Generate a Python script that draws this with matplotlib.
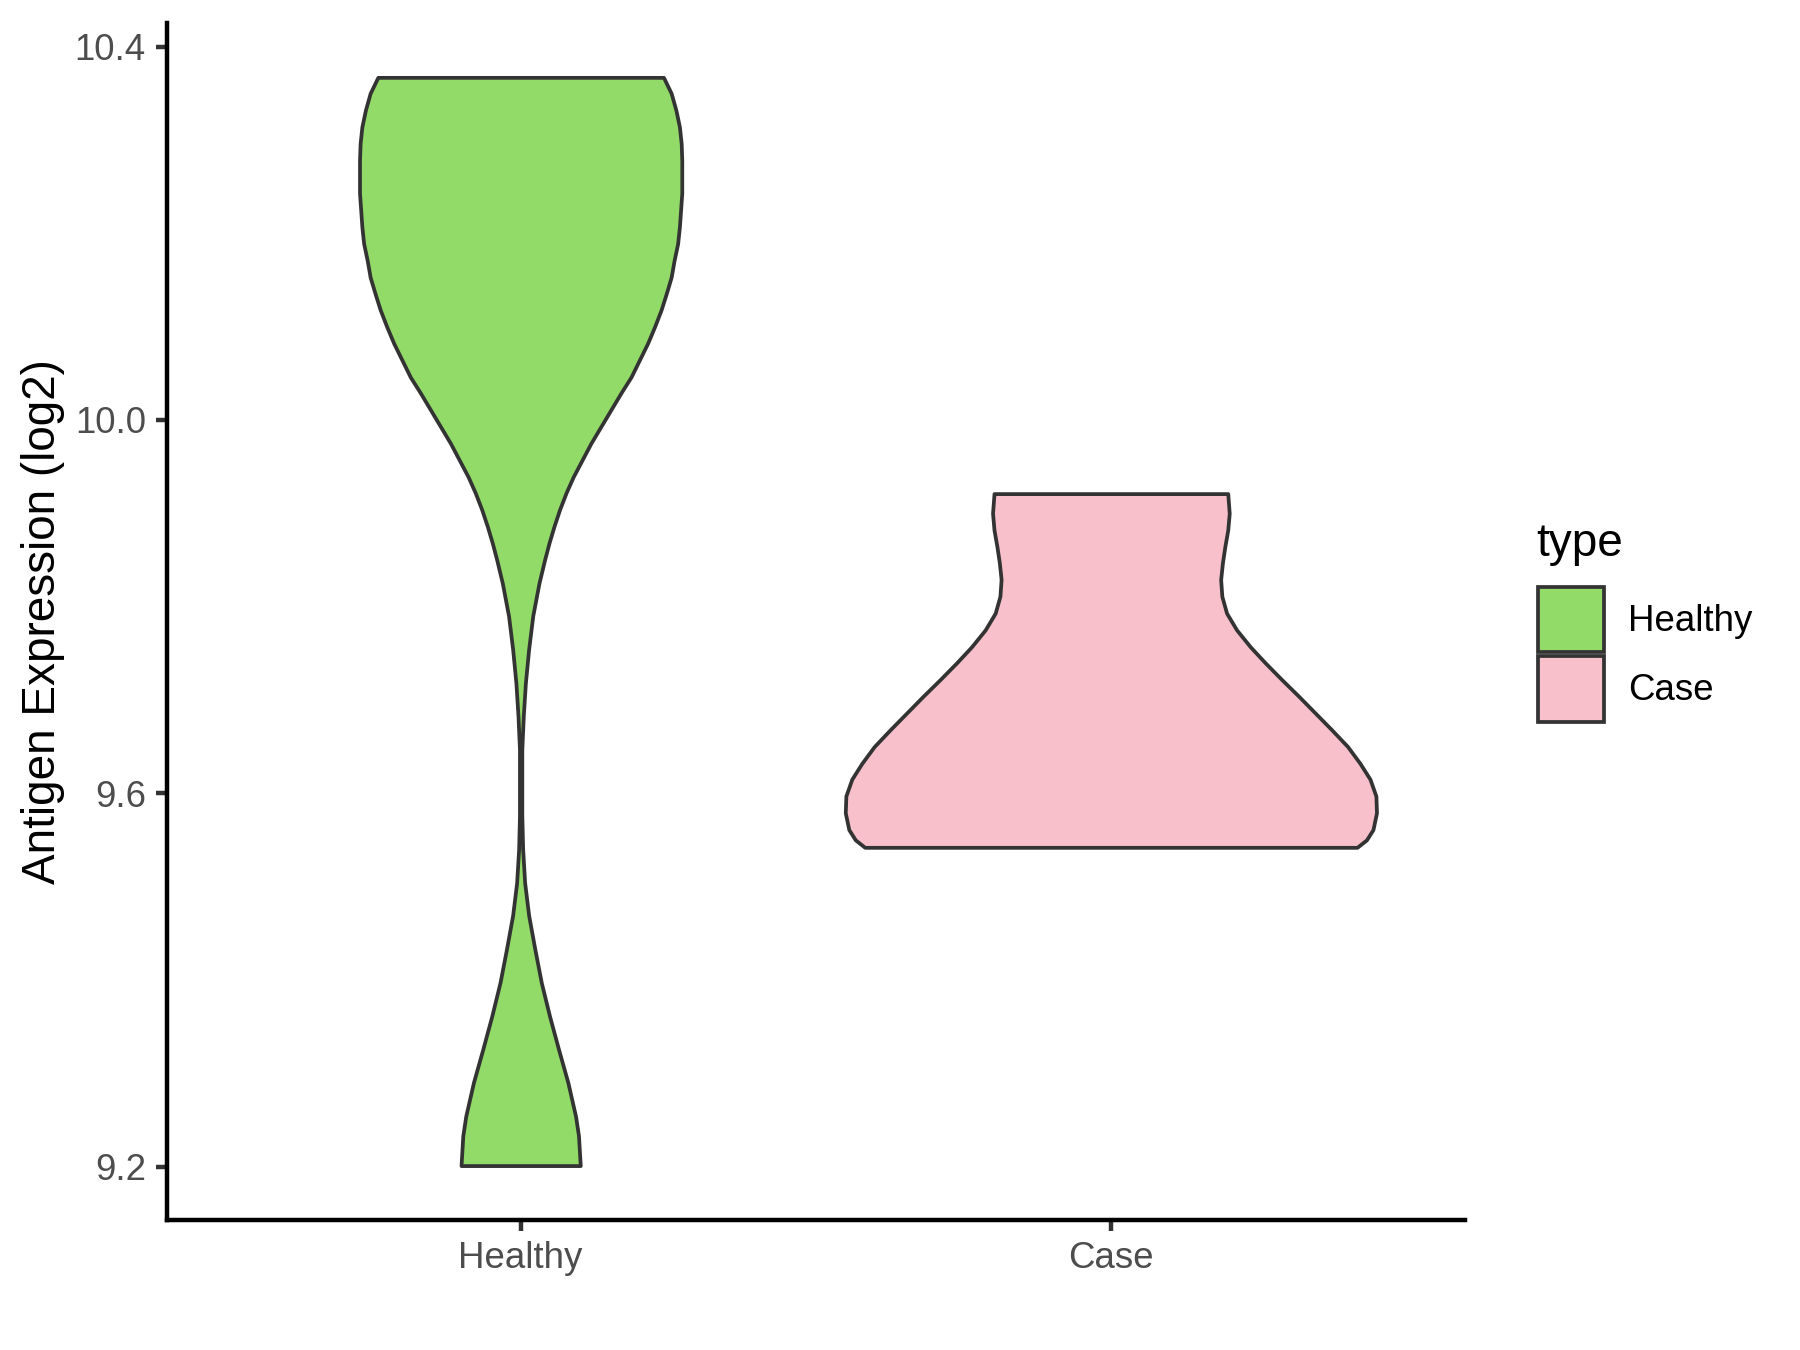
import numpy as np
import matplotlib.pyplot as plt
from matplotlib.patches import Patch

plt.rcParams['font.family'] = ['Liberation Sans', 'DejaVu Sans']

groups = ['Healthy', 'Case']
fills = ['#93DB69', '#F7C0CB']
y_ticks = [9.2, 9.6, 10.0, 10.4]

# violin outlines: expression level, half width (x units)
healthy_y = [10.367, 10.350, 10.332, 10.314, 10.296, 10.278, 10.260, 10.243,
             10.225, 10.207, 10.189, 10.171, 10.153, 10.136, 10.118, 10.100,
             10.082, 10.064, 10.046, 10.029, 10.011, 9.993, 9.975, 9.957,
             9.939, 9.922, 9.904, 9.886, 9.868, 9.850, 9.825, 9.790, 9.754,
             9.718, 9.683, 9.647, 9.612, 9.576, 9.540, 9.504, 9.469, 9.433,
             9.397, 9.361, 9.326, 9.290, 9.254, 9.233, 9.201]
healthy_w = [0.242, 0.255, 0.263, 0.269, 0.272, 0.273, 0.273, 0.273,
             0.271, 0.269, 0.266, 0.260, 0.255, 0.247, 0.238, 0.227,
             0.215, 0.201, 0.187, 0.170, 0.153, 0.136, 0.119, 0.104,
             0.089, 0.077, 0.066, 0.0565, 0.048, 0.0405, 0.031, 0.0205, 0.0135,
             0.008, 0.0045, 0.002, 0.002, 0.002, 0.0034, 0.0068, 0.0136, 0.024,
             0.035, 0.049, 0.064, 0.080, 0.093, 0.098, 0.101]
case_y = [9.921, 9.900, 9.882, 9.864, 9.847, 9.829, 9.811, 9.793, 9.775,
          9.757, 9.740, 9.722, 9.704, 9.686, 9.668, 9.650, 9.632, 9.615,
          9.597, 9.579, 9.561, 9.550, 9.542]
case_w = [0.198, 0.2005, 0.198, 0.193, 0.189, 0.186, 0.188, 0.196, 0.213,
          0.236, 0.261, 0.289, 0.318, 0.346, 0.374, 0.401, 0.422, 0.439,
          0.449, 0.450, 0.444, 0.433, 0.417]

fig = plt.figure(figsize=(6, 4.5), dpi=300)
ax = fig.add_axes([0.0925, 0.0963, 0.7214, 0.8867])

outline = '#333333'
for i, (ys, ws) in enumerate([(healthy_y, healthy_w), (case_y, case_w)]):
    ys = np.array(ys)
    ws = np.array(ws)
    ax.fill_betweenx(ys, i + 1 - ws, i + 1 + ws, facecolor=fills[i],
                     edgecolor=outline, linewidth=0.9, joinstyle='round')

lo = min(healthy_y + case_y)
hi = max(healthy_y + case_y)
pad = 0.05 * (hi - lo)
ax.set_ylim(lo - pad, hi + pad)
ax.set_xlim(0.4, 2.6)

ax.set_xticks([1, 2])
ax.set_xticklabels(groups)
ax.set_yticks(y_ticks)
ax.set_yticklabels([f'{t:.1f}' for t in y_ticks])

for s in ['top', 'right']:
    ax.spines[s].set_visible(False)
for s in ['left', 'bottom']:
    ax.spines[s].set_linewidth(1.07)
    ax.spines[s].set_color('black')
ax.tick_params(length=2.75, width=1.07, color=outline, labelsize=8.8,
               labelcolor='#4D4D4D', pad=2.2)
ax.set_ylabel('Antigen Expression (log2)', fontsize=11, labelpad=2.4)

# legend: title as its own text so the gap to the keys matches
fig.text(0.8535, 0.5884, 'type', fontsize=11, va='baseline', ha='left')
handles = [Patch(facecolor=c, edgecolor=outline, linewidth=0.9) for c in fills]
leg = fig.legend(handles, groups, loc='center left',
                 bbox_to_anchor=(0.8546, 0.5155), frameon=False, fontsize=8.8,
                 handlelength=1.8, handleheight=2.36,
                 handletextpad=0.65, labelspacing=0.12, borderpad=0,
                 borderaxespad=0)

fig.savefig('out.png', dpi=300)
